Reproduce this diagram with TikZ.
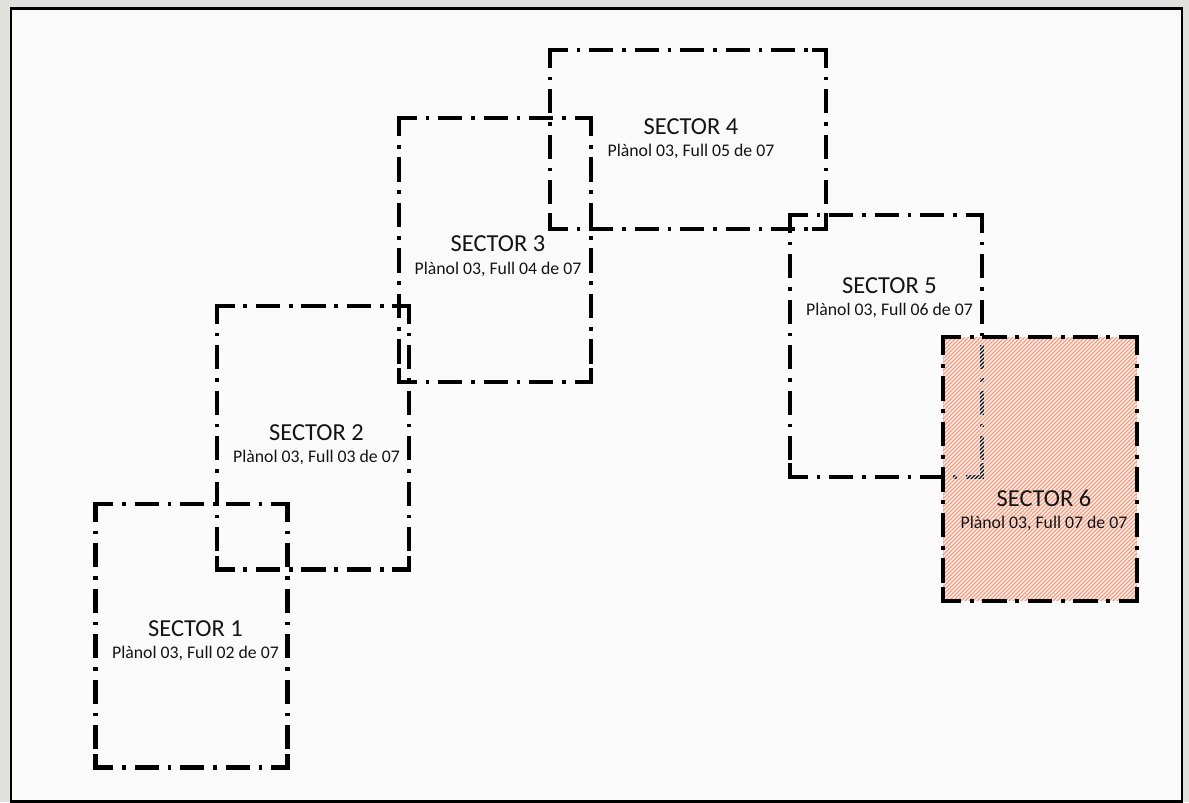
\documentclass[tikz,border=0pt]{standalone}
\usepackage{fontspec}
\setmainfont{Carlito}
\usepackage{xcolor}
\usepackage{tikz}
\usetikzlibrary{calc}
\definecolor{mapbg}{RGB}{224,224,220}
\definecolor{sheetbg}{RGB}{250,250,250}
\definecolor{hatchbg}{RGB}{247,152,122}
\definecolor{inkgray}{RGB}{20,20,20}

\begin{document}
\begin{tikzpicture}[x=0.02cm, y=-0.02cm,
  sector/.style={line width=0.085cm, line cap=butt,
    dash pattern=on 13.9pt off 4.9pt on 2.2pt off 4.9pt, dash phase=3.7pt},
  corner/.style={line width=0.085cm, line cap=butt, line join=miter},
  title/.style={font=\fontsize{13.9}{16}\selectfont, text=inkgray, inner sep=0pt, anchor=base},
  sheet/.style={font=\fontsize{10.1}{12}\selectfont, text=inkgray, inner sep=0pt, anchor=base}]
  \useasboundingbox (0,0) rectangle (1189,802);
  % map behind the sheet
  \fill[mapbg] (0,0) rectangle (1189,802);
  \draw[line width=0.045cm, fill=sheetbg] (11,8.5) rectangle (1182,801.5);
  % sector 6 fill, under sector 5
  \fill[hatchbg] (943.3,337.3) rectangle (1136.7,601);
  % sector outlines
  \foreach \xa/\ya/\xb/\yb in {95.5/504/287.5/767.5, 216.7/306/408.7/569.5,
      399/118.3/591/381.8, 550/50/825.7/229.3, 790/215/982.3/476.7} {
    \draw[sector] (\xa,\ya) -- (\xb,\ya);
    \draw[sector] (\xb,\ya) -- (\xb,\yb);
    \draw[sector] (\xa,\yb) -- (\xb,\yb);
    \draw[sector] (\xa,\ya) -- (\xa,\yb);
    \draw[corner] (\xa+14,\ya) -- (\xa,\ya) -- (\xa,\ya+14);
    \draw[corner] (\xb-14,\ya) -- (\xb,\ya) -- (\xb,\ya+14);
    \draw[corner] (\xa+14,\yb) -- (\xa,\yb) -- (\xa,\yb-14);
    \draw[corner] (\xb-14,\yb) -- (\xb,\yb) -- (\xb,\yb-14);
  }
  % hatching of sector 6
  \begin{scope}
    \clip (943.3,337.3) rectangle (1136.7,601);
    \foreach \k in {0,...,117}
      \draw[sheetbg, line width=0.024cm] (675+\k*4,605) -- ++(272,-272);
  \end{scope}
  \draw[sector] (943.3,337.3) -- (1136.7,337.3);
  \draw[sector] (1136.7,337.3) -- (1136.7,601);
  \draw[sector] (943.3,601) -- (1136.7,601);
  \draw[sector] (943.3,337.3) -- (943.3,601);
  \draw[corner] (957.3,337.3) -- (943.3,337.3) -- (943.3,351.3);
  \draw[corner] (1122.7,337.3) -- (1136.7,337.3) -- (1136.7,351.3);
  \draw[corner] (957.3,601) -- (943.3,601) -- (943.3,587);
  \draw[corner] (1122.7,601) -- (1136.7,601) -- (1136.7,587);
  % labels
  \foreach \n/\xt/\yt/\full in {1/195.5/636/02, 2/316.5/440/03, 3/498/251.7/04,
      4/691/134/05, 5/889.5/293.3/06, 6/1044/506/07} {
    \node[title] (t\n) at (\xt,\yt) {SECTOR \n};
    \node[sheet] (p\n) at ($(t\n.base)+(0,22.5)$) {Plànol 03, Full \full{} de 07};
  }
\end{tikzpicture}
\end{document}
